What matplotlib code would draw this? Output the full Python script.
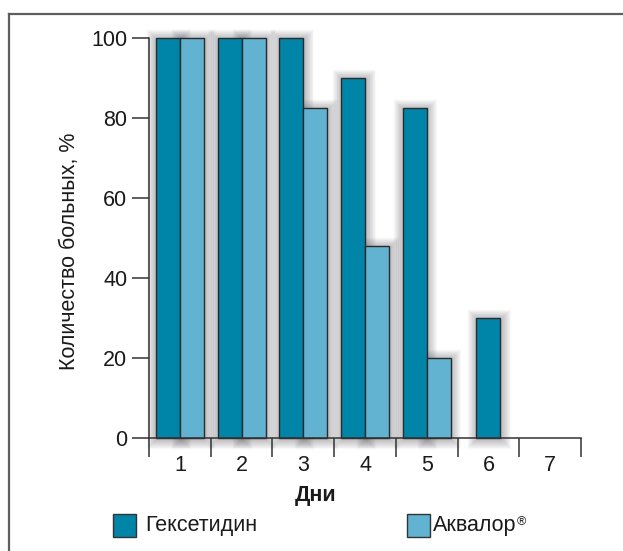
import matplotlib
matplotlib.use("Agg")
import matplotlib.pyplot as plt
import matplotlib.patheffects as pe
from matplotlib.lines import Line2D
from matplotlib.patches import Rectangle

plt.rcParams['font.family'] = ['Liberation Sans', 'DejaVu Sans']

# Data: share of patients with symptoms by day
days = ['1', '2', '3', '4', '5', '6', '7']
hexetidine = [100, 100, 100, 90, 82.5, 30, 0]
aqualor = [100, 100, 82.5, 48, 20, 0, 0]
series_names = ['Гексетидин', 'Аквалор']
y_ticks = [0, 20, 40, 60, 80, 100]

DARK = '#0085a9'
LIGHT = '#62b3d1'
EDGE = '#2a2a2a'
TXT = '#1a1a1a'

W, H = 623, 551
fig = plt.figure(figsize=(W / 100, H / 100), dpi=100)


def fx(px):
    return px / W


def fy(py):
    return 1 - py / H


ax = fig.add_axes([fx(149), fy(438), fx(581) - fx(149), fy(38) - fy(438)])

x = list(range(1, len(days) + 1))
bw = 0.39

# bar positions: paired bars sit side by side, a lone bar is centred
dark_x, dark_h, light_x, light_h = [], [], [], []
for xi, a, b in zip(x, hexetidine, aqualor):
    if a > 0:
        dark_x.append(xi - bw / 2 if b > 0 else xi)
        dark_h.append(a)
    if b > 0:
        light_x.append(xi + bw / 2 if a > 0 else xi)
        light_h.append(b)

# soft glow under the bars
glow = [pe.Stroke(linewidth=lw, foreground='#4a4a55', alpha=0.028, offset=(0.5, -0.5))
        for lw in range(1, 15)]
for bx, bh in ((dark_x, dark_h), (light_x, light_h)):
    ax.bar(bx, bh, width=bw, color='none', edgecolor='none', zorder=1,
           path_effects=glow, clip_on=False)

ax.bar(dark_x, dark_h, width=bw, color=DARK, edgecolor=EDGE, linewidth=1.0, zorder=3,
       clip_on=False)
ax.bar(light_x, light_h, width=bw, color=LIGHT, edgecolor=EDGE, linewidth=1.0, zorder=3,
       clip_on=False)

ax.set_xlim(0.5, len(days) + 0.5)
ax.set_ylim(0, 100)

for s in ('top', 'right'):
    ax.spines[s].set_visible(False)
for s in ('left', 'bottom'):
    ax.spines[s].set_color('#333333')
    ax.spines[s].set_linewidth(1.1)
    ax.spines[s].set_zorder(4)

ax.set_yticks(y_ticks)
ax.set_yticklabels([str(v) for v in y_ticks])
ax.tick_params(axis='y', direction='out', length=12.5, width=1.1, color='#333333',
               pad=3, labelsize=15.5, labelcolor=TXT)

ax.set_xticks(x)
ax.set_xticklabels(days)
ax.tick_params(axis='x', which='major', length=0, pad=12, labelsize=15.5, labelcolor=TXT)
ax.set_xticks([v + 0.5 for v in range(0, len(days) + 1)], minor=True)
ax.tick_params(axis='x', which='minor', direction='out', length=13.5, width=1.1,
               color='#333333')

# axis titles
fig.text(fx(70), fy(251), 'Количество больных, %', rotation=90, ha='center',
         va='center', fontsize=15.5, color=TXT)
fig.text(fx(316), fy(496), 'Дни', ha='center', va='center', fontsize=15.5,
         fontweight='bold', color=TXT)

# legend
sq = 23
for (px, col, name) in ((113, DARK, series_names[0]), (407, LIGHT, series_names[1])):
    fig.patches.append(Rectangle((fx(px), fy(514 + sq)), sq / W, sq / H,
                                 transform=fig.transFigure, facecolor=col,
                                 edgecolor='#333333', linewidth=1.0))
fig.text(fx(145), fy(526), series_names[0], ha='left', va='center', fontsize=15.5,
         color=TXT)
t2 = fig.text(fx(433), fy(526), series_names[1], ha='left', va='center', fontsize=15.5,
              color=TXT)
r = fig.canvas.get_renderer()
bb = t2.get_window_extent(r)
fig.text(bb.x1 / W, fy(522), '®', ha='left', va='center', fontsize=9, color=TXT)

# frame around the figure
fig.lines.append(Line2D([fx(9), 1.0], [fy(14), fy(14)], transform=fig.transFigure,
                        color='#5e5e5e', linewidth=1.6))
fig.lines.append(Line2D([fx(9), fx(9)], [fy(14), 0.0], transform=fig.transFigure,
                        color='#5e5e5e', linewidth=1.6))

fig.savefig('out.png', dpi=100)
